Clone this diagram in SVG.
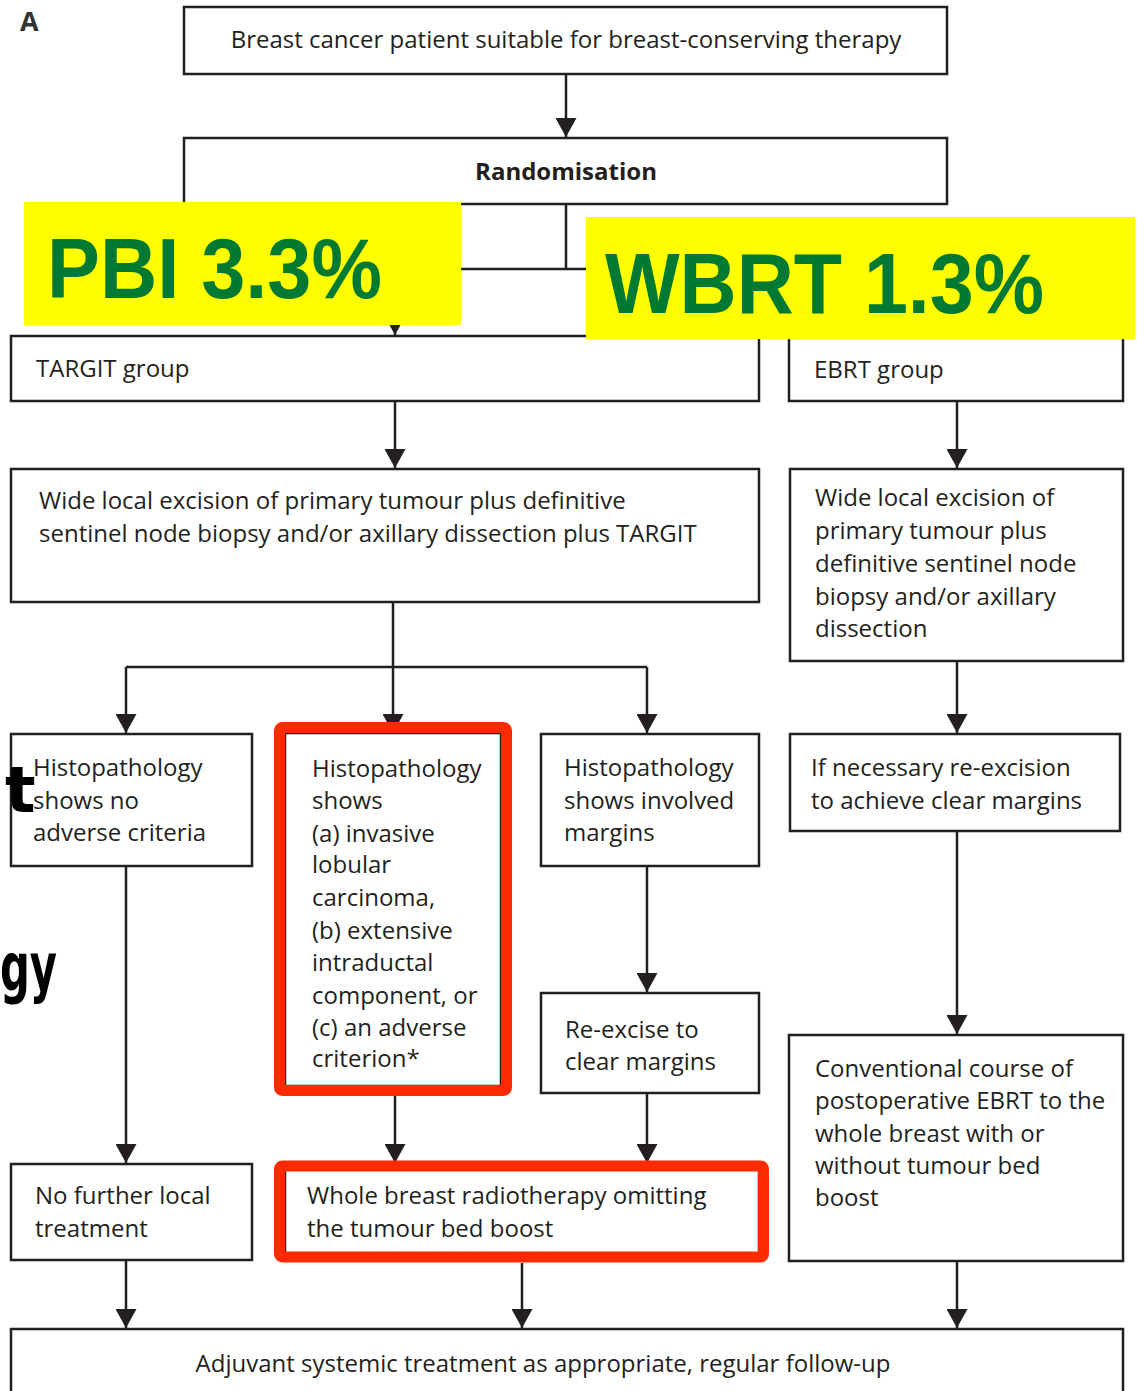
<svg xmlns="http://www.w3.org/2000/svg" width="1137" height="1391" viewBox="0 0 1137 1391">
<style>
.box{fill:#fff;stroke:#231f20;stroke-width:2.5}
.t{font-family:"Open Sans","Liberation Sans",sans-serif;font-size:24px;fill:#231f20}
.b{font-weight:bold}
.c{text-anchor:middle}
.con{fill:none;stroke:#231f20;stroke-width:2.5}
.red{fill:none;stroke:#ff2a00;stroke-width:11}
.yel{fill:#ffff00}
.g{font-family:"Liberation Sans",sans-serif;font-weight:bold;fill:#007a33}
.frag{font-family:"DejaVu Sans",sans-serif;font-weight:bold;fill:#000}
</style>
<defs>
<marker id="ah" markerUnits="userSpaceOnUse" viewBox="0 0 19 21" markerWidth="19" markerHeight="21" refX="19" refY="10.5" orient="auto">
<path d="M0,0 L19,10.5 L0,21 z" fill="#231f20"/>
</marker>
</defs>
<rect width="1137" height="1391" fill="#fff"/>
<text x="20" y="31" class="t b" style="font-size:27px;fill:#333">A</text>

<g id="connectors" class="con">
<path d="M566,74 V137" marker-end="url(#ah)"/>
<path d="M566,204 V269 M395,269 H957"/>
<path d="M395,269 V335" marker-end="url(#ah)"/>
<path d="M957,269 V335" marker-end="url(#ah)"/>
<path d="M395,401 V468" marker-end="url(#ah)"/>
<path d="M957,401 V468" marker-end="url(#ah)"/>
<path d="M393,602 V667 M126,667 H647"/>
<path d="M126,667 V733" marker-end="url(#ah)"/>
<path d="M393,667 V733" marker-end="url(#ah)"/>
<path d="M647,667 V733" marker-end="url(#ah)"/>
<path d="M957,661 V733" marker-end="url(#ah)"/>
<path d="M126,866 V1163" marker-end="url(#ah)"/>
<path d="M395,1096 V1163" marker-end="url(#ah)"/>
<path d="M647,866 V992" marker-end="url(#ah)"/>
<path d="M647,1093 V1163" marker-end="url(#ah)"/>
<path d="M957,831 V1034" marker-end="url(#ah)"/>
<path d="M126,1260 V1328" marker-end="url(#ah)"/>
<path d="M522,1263 V1328" marker-end="url(#ah)"/>
<path d="M957,1261 V1328" marker-end="url(#ah)"/>
</g>

<g id="n-patient">
<rect class="box" x="184" y="7" width="763" height="67"/>
<text class="t c" x="566" y="48">Breast cancer patient suitable for breast-conserving therapy</text>
</g>
<g id="n-random">
<rect class="box" x="184" y="138" width="763" height="66"/>
<text class="t b c" x="566" y="180">Randomisation</text>
</g>
<g id="n-targit">
<rect class="box" x="11" y="336" width="748" height="65"/>
<text class="t" x="36" y="377">TARGIT group</text>
</g>
<g id="n-ebrt">
<rect class="box" x="789" y="336" width="334" height="65"/>
<text class="t" x="814" y="378">EBRT group</text>
</g>
<g id="n-wle-targit">
<rect class="box" x="11" y="469" width="748" height="133"/>
<text class="t" x="39" y="509">Wide local excision of primary tumour plus definitive</text>
<text class="t" x="39" y="542">sentinel node biopsy and/or axillary dissection plus TARGIT</text>
</g>
<g id="n-wle-ebrt">
<rect class="box" x="790" y="469" width="333" height="192"/>
<text class="t" x="815" y="506">Wide local excision of</text>
<text class="t" x="815" y="539">primary tumour plus</text>
<text class="t" x="815" y="572">definitive sentinel node</text>
<text class="t" x="815" y="605">biopsy and/or axillary</text>
<text class="t" x="815" y="637">dissection</text>
</g>
<g id="n-histo-no">
<rect class="box" x="11" y="734" width="241" height="132"/>
<text class="t" x="33" y="776">Histopathology</text>
<text class="t" x="33" y="809">shows no</text>
<text class="t" x="33" y="841">adverse criteria</text>
</g>
<g id="n-histo-adverse">
<rect class="box" x="285" y="733" width="216" height="353"/>
<text class="t" x="312" y="777">Histopathology</text>
<text class="t" x="312" y="809">shows</text>
<text class="t" x="312" y="842">(a) invasive</text>
<text class="t" x="312" y="873">lobular</text>
<text class="t" x="312" y="906">carcinoma,</text>
<text class="t" x="312" y="939">(b) extensive</text>
<text class="t" x="312" y="971">intraductal</text>
<text class="t" x="312" y="1004">component, or</text>
<text class="t" x="312" y="1036">(c) an adverse</text>
<text class="t" x="312" y="1067">criterion*</text>
</g>
<g id="n-histo-margins">
<rect class="box" x="541" y="734" width="218" height="132"/>
<text class="t" x="564" y="776">Histopathology</text>
<text class="t" x="564" y="809">shows involved</text>
<text class="t" x="564" y="841">margins</text>
</g>
<g id="n-reexcision">
<rect class="box" x="790" y="734" width="330" height="97"/>
<text class="t" x="811" y="776">If necessary re-excision</text>
<text class="t" x="811" y="809">to achieve clear margins</text>
</g>
<g id="n-reexcise">
<rect class="box" x="541" y="993" width="218" height="100"/>
<text class="t" x="565" y="1038">Re-excise to</text>
<text class="t" x="565" y="1070">clear margins</text>
</g>
<g id="n-nofurther">
<rect class="box" x="11" y="1164" width="241" height="96"/>
<text class="t" x="35" y="1204">No further local</text>
<text class="t" x="35" y="1237">treatment</text>
</g>
<g id="n-wholebreast">
<rect class="box" x="285" y="1167" width="474" height="90"/>
<text class="t" x="307" y="1204">Whole breast radiotherapy omitting</text>
<text class="t" x="307" y="1237">the tumour bed boost</text>
</g>
<g id="n-conventional">
<rect class="box" x="789" y="1035" width="334" height="226"/>
<text class="t" x="815" y="1077">Conventional course of</text>
<text class="t" x="815" y="1109">postoperative EBRT to the</text>
<text class="t" x="815" y="1142">whole breast with or</text>
<text class="t" x="815" y="1174">without tumour bed</text>
<text class="t" x="815" y="1206">boost</text>
</g>
<g id="n-adjuvant">
<rect class="box" x="11" y="1329" width="1112" height="80"/>
<text class="t c" x="543" y="1372">Adjuvant systemic treatment as appropriate, regular follow-up</text>
</g>

<g id="highlights">
<rect class="red" x="279.5" y="727.5" width="227" height="363" rx="3"/>
<rect class="red" x="279.5" y="1166" width="484" height="91" rx="3"/>
</g>

<g id="label-pbi">
<rect class="yel" x="24" y="202" width="437" height="123"/>
<text class="g" x="47" y="298" font-size="86" textLength="335" lengthAdjust="spacingAndGlyphs">PBI 3.3%</text>
</g>
<g id="label-wbrt">
<rect class="yel" x="586" y="217" width="549" height="122"/>
<text class="g" x="605" y="313" font-size="86" textLength="439" lengthAdjust="spacingAndGlyphs">WBRT 1.3%</text>
</g>

<text class="frag" x="5" y="812" font-size="64">t</text>
<text class="frag" x="0" y="990" font-size="66" textLength="57" lengthAdjust="spacingAndGlyphs">gy</text>
</svg>
